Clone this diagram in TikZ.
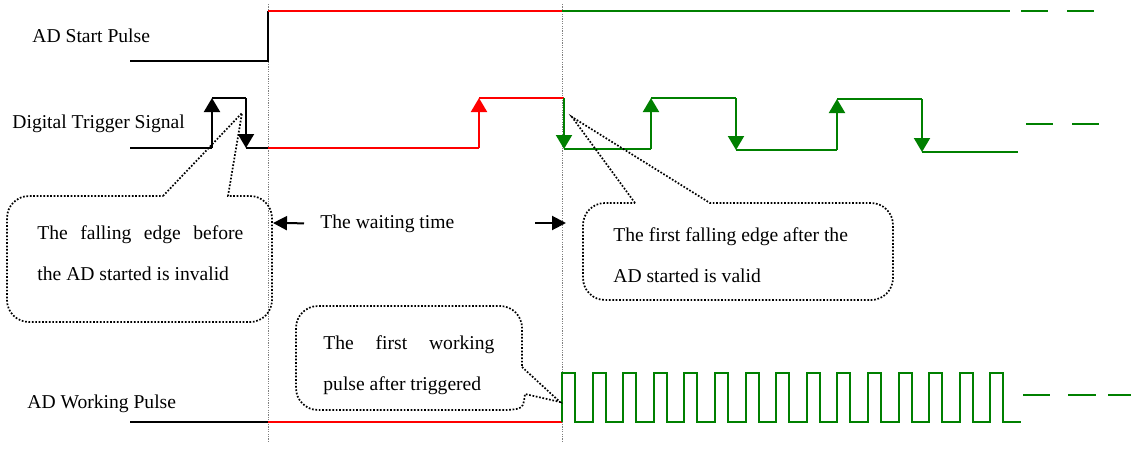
\documentclass[tikz,border=0pt]{standalone}
\usepackage{fontspec}
\setmainfont{Liberation Serif}
\usetikzlibrary{arrows.meta}
\definecolor{sigred}{RGB}{255,0,0}
\definecolor{siggreen}{RGB}{0,128,0}
\newcommand{\lbl}{\fontsize{9.8}{20.5}\selectfont}

\begin{document}
\begin{tikzpicture}[x=0.5pt,y=-0.5pt,
    sig/.style={line width=1pt},
    edge/.style={line width=1pt,-{Triangle[length=7pt,width=8pt]}},
    warr/.style={line width=1pt,-{Triangle[length=7pt,width=7pt]}},
    callout/.style={line width=0.85pt,dash pattern=on 0.85pt off 0.85pt},
    marker/.style={gray,line width=0.4pt,dash pattern=on 0.6pt off 0.6pt},
    txt/.style={inner sep=0pt,anchor=base west,font=\lbl,align=left}]
\useasboundingbox (0,0) rectangle (1131,450);

% time marks
\draw[marker] (268,4)--(268,442);
\draw[marker] (562,4)--(562,442);

% AD start pulse
\node[txt] (startlbl) at (32,42) {AD Start Pulse};
\draw[sig] (130,61)--(268,61)--(268,11);
\draw[sig,sigred] (268,11)--(562,11);
\draw[sig,siggreen] (562,11)--(1010,11);
\draw[sig,siggreen] (1021,11)--(1048,11) (1067,11)--(1094,11);

% digital trigger signal
\node[txt] (triglbl) at (12,128) {Digital Trigger Signal};
\draw[sig] (130,148)--(212,148);
\draw[edge] (212,148)--(212,98);
\draw[sig] (212,98)--(246,98);
\draw[edge] (246,98)--(246,148);
\draw[sig] (246,148)--(268,148);
\draw[sig,sigred] (268,148)--(479,148);
\draw[edge,sigred] (479,148)--(479,98);
\draw[sig,sigred] (479,98)--(564,98);
\draw[edge,siggreen] (564,98)--(564,149);
\draw[sig,siggreen] (564,149)--(651,149);
\draw[edge,siggreen] (651,149)--(651,98);
\draw[sig,siggreen] (651,98)--(736,98);
\draw[edge,siggreen] (736,98)--(736,150);
\draw[sig,siggreen] (736,150)--(837,150);
\draw[edge,siggreen] (837,150)--(837,99);
\draw[sig,siggreen] (837,99)--(922,99);
\draw[edge,siggreen] (922,99)--(922,152);
\draw[sig,siggreen] (922,152)--(1018,152);
\draw[sig,siggreen] (1026,124)--(1053,124) (1072,124)--(1099,124);

% AD working pulse
\node[txt] (worklbl) at (27,408) {AD Working Pulse};
\draw[sig] (130,422)--(268,422);
\draw[sig,sigred] (268,422)--(562,422);
\draw[sig,siggreen] (562,422)
    \foreach \i in {0,...,14} {
      --({562+30.6*\i},422) --({562+30.6*\i},373) --({575+30.6*\i},373) --({575+30.6*\i},422)
    } --(1021,422);
\draw[sig,siggreen] (1023,395)--(1050,395) (1068,395)--(1096,395) (1108,395)--(1131,395);

% waiting time
\coordinate (tA) at (273,223);
\coordinate (tB) at (566,223);
\node[txt] (wait) at (320,228) {The waiting time};
\draw[warr] ([xshift=-8pt]wait.west)--(tA);
\draw[warr] ([xshift=-15.5pt]tB)--(tB);

% callouts
\draw[callout] (163,196)--(242,113)--(228,196) [rounded corners=11pt] --(272,196)--(272,322)--(7,322)--(7,196)--(163,196);
\node[txt] (noteA) at (37,280) {\makebox[103pt][s]{The falling edge before}\\the AD started is invalid};

\draw[callout] (635,203)--(572,117)--(710,203) [rounded corners=11pt] --(893,203)--(893,300)--(583,300)--(583,203)--(635,203);
\node[txt] (noteB) at (613,282) {The first falling edge after the\\AD started is valid};

\draw[callout] (522,367)--(560,402)--(525,394) .. controls (523,409) .. (505,410) [rounded corners=11pt] --(296,410)--(296,306)--(522,306)--(522,367);
\node[txt] (noteC) at (323,390) {\makebox[85.5pt][s]{The first working}\\pulse after triggered};
\end{tikzpicture}
\end{document}
